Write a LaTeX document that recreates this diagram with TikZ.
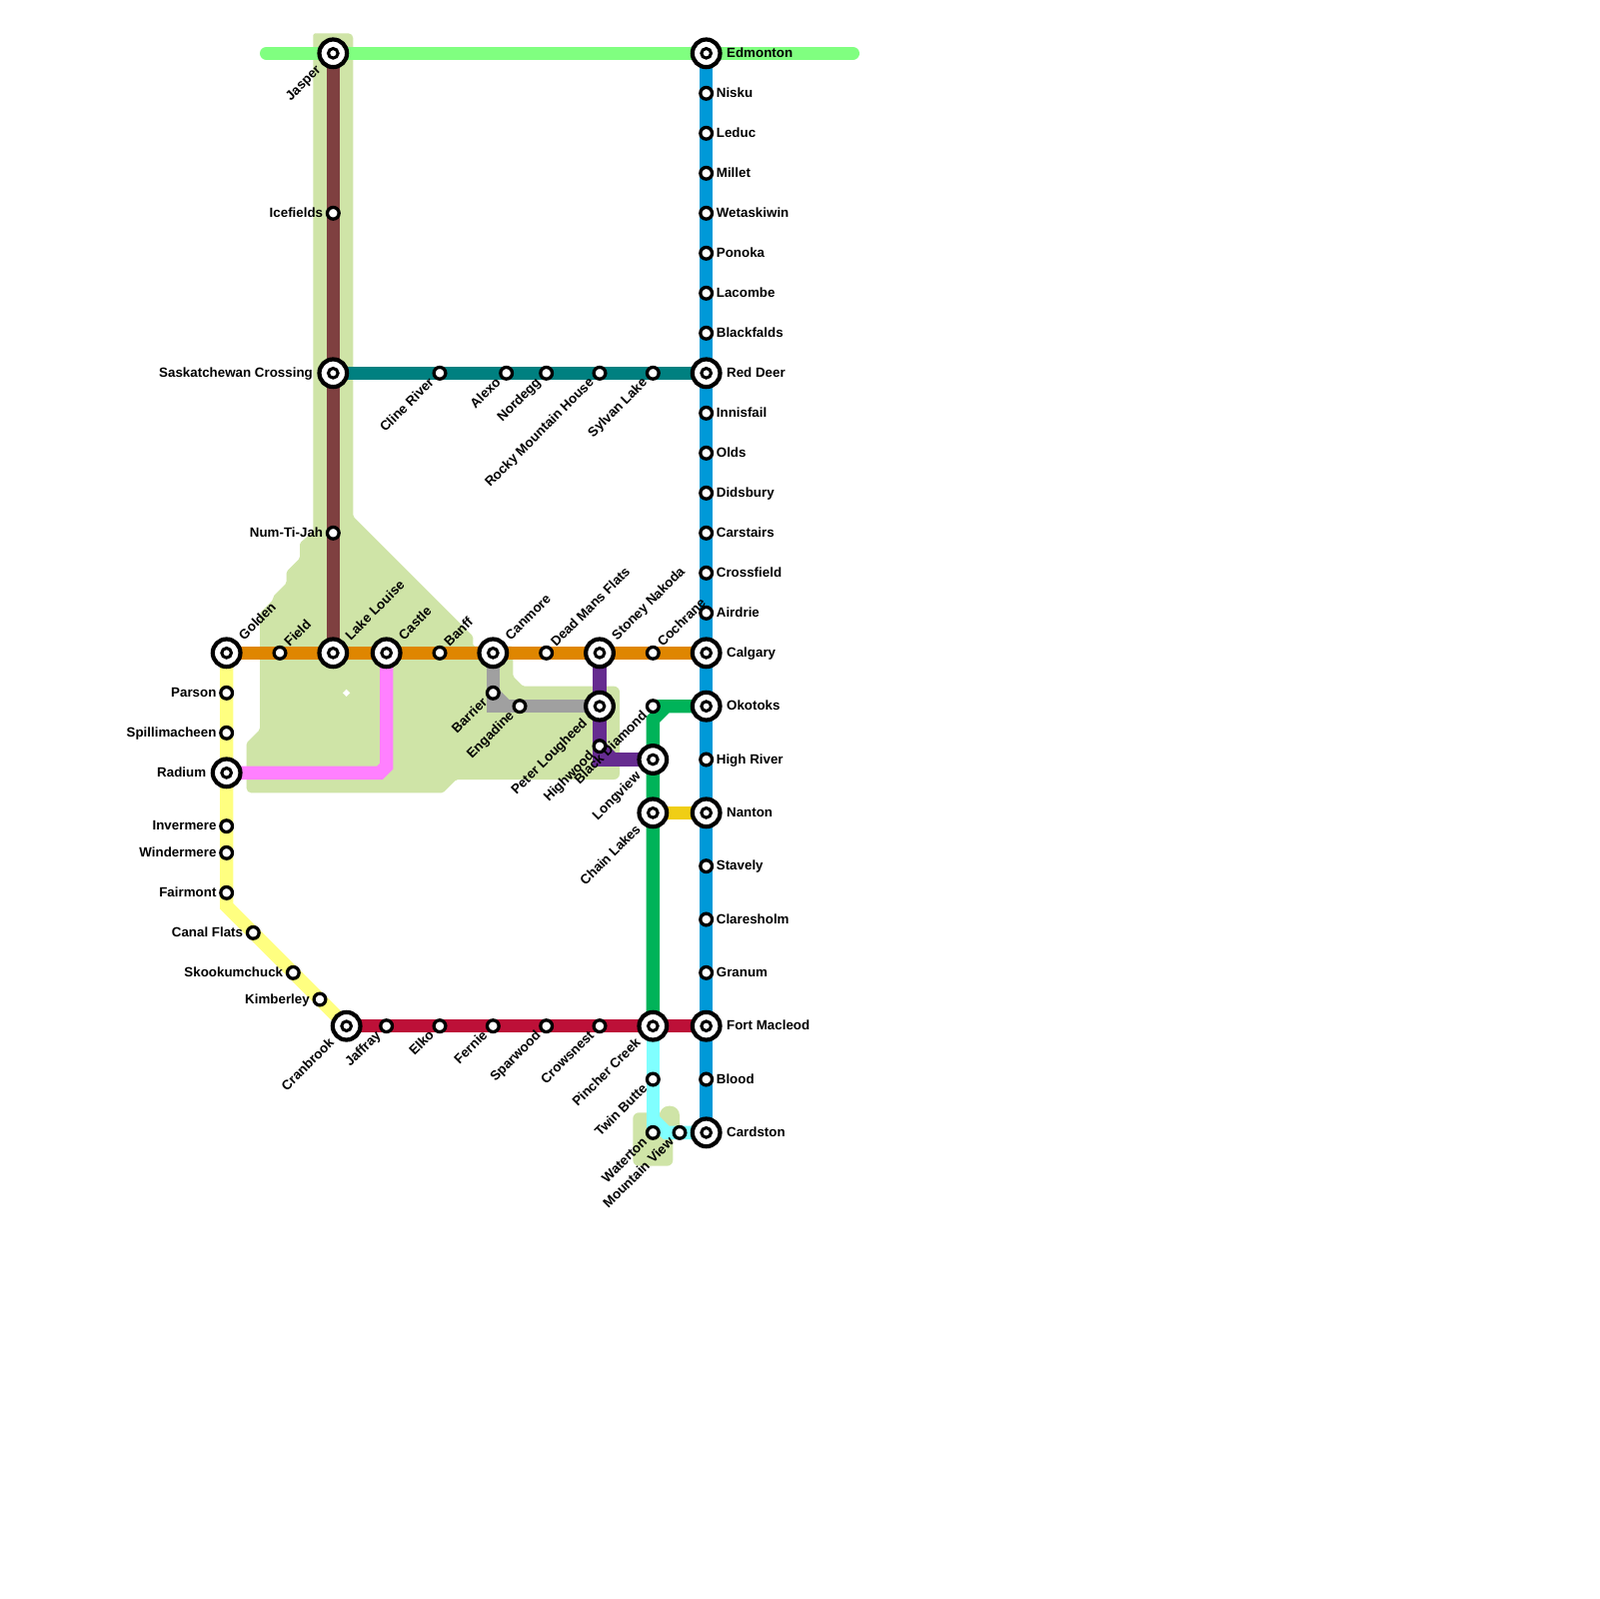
\documentclass[tikz,border=0pt]{standalone}
\usepackage{fontspec}
\setmainfont{Liberation Sans}
\usetikzlibrary{backgrounds}

\definecolor{landc}{HTML}{CFE4A7}
\definecolor{edmc}{HTML}{80FF80}
\definecolor{bluec}{HTML}{0099D8}
\definecolor{brownc}{HTML}{7F4040}
\definecolor{tealc}{HTML}{008080}
\definecolor{orangec}{HTML}{DF8600}
\definecolor{yellowc}{HTML}{FFFF80}
\definecolor{pinkc}{HTML}{FF80FF}
\definecolor{greyc}{HTML}{A0A0A0}
\definecolor{purplec}{HTML}{662C90}
\definecolor{greenc}{HTML}{00B359}
\definecolor{goldc}{HTML}{F0CE15}
\definecolor{redc}{HTML}{BD1038}
\definecolor{cyanc}{HTML}{80FFFF}

\begin{document}
\begin{tikzpicture}[
  x=2mm, y=-2mm,
  land/.style={fill=landc, rounded corners=0.7pt},
  route/.style={line width=2mm},
  stop/.style={circle, draw=black, fill=white, line width=1.4pt, minimum size=5pt, inner sep=0pt},
  hub/.style={circle, draw=black, fill=white, line width=1.8pt, minimum size=11.8pt, inner sep=0pt},
  hubdot/.style={circle, draw=black, fill=white, line width=1.3pt, minimum size=4.1pt, inner sep=0pt},
  lab/.style={font=\bfseries\fontsize{5.7pt}{6pt}\selectfont, inner sep=0pt, text height=4.4pt, text depth=0.8pt},
  stopE/.style={lab, anchor=west, shift={(0.73,0)}},
  stopW/.style={lab, anchor=east, shift={(-0.73,0)}},
  stopN/.style={lab, anchor=west, shift={(0.5,-0.62)}, rotate=45},
  stopS/.style={lab, anchor=east, shift={(-0.58,0.52)}, rotate=45},
  hubE/.style={lab, anchor=west, shift={(1.5,0)}},
  hubW/.style={lab, anchor=east, shift={(-1.5,0)}},
  hubN/.style={lab, anchor=west, shift={(1.08,-1.12)}, rotate=45},
  hubS/.style={lab, anchor=east, shift={(-1.08,1.07)}, rotate=45},
]
\useasboundingbox (0,0) rectangle (120,120);

% Stations
\foreach \id/\x/\y/\kind/\side/\txt in {
  jasper/25/4/hub/S/Jasper, icefields/25/16/stop/W/Icefields,
  saskcrossing/25/28/hub/W/Saskatchewan Crossing, numtijah/25/40/stop/W/Num-Ti-Jah,
  golden/17/49/hub/N/Golden, field/21/49/stop/N/Field,
  lakelouise/25/49/hub/N/Lake Louise, castle/29/49/hub/N/Castle,
  banff/33/49/stop/N/Banff, canmore/37/49/hub/N/Canmore,
  deadmans/41/49/stop/N/Dead Mans Flats, stoney/45/49/hub/N/Stoney Nakoda,
  cochrane/49/49/stop/N/Cochrane,
  parson/17/52/stop/W/Parson, spillimacheen/17/55/stop/W/Spillimacheen,
  radium/17/58/hub/W/Radium, invermere/17/62/stop/W/Invermere,
  windermere/17/64/stop/W/Windermere, fairmont/17/67/stop/W/Fairmont,
  canalflats/19/70/stop/W/Canal Flats, skookumchuck/22/73/stop/W/Skookumchuck,
  kimberley/24/75/stop/W/Kimberley, cranbrook/26/77/hub/S/Cranbrook,
  jaffray/29/77/stop/S/Jaffray, elko/33/77/stop/S/Elko,
  fernie/37/77/stop/S/Fernie, sparwood/41/77/stop/S/Sparwood,
  crowsnest/45/77/stop/S/Crowsnest, pincher/49/77/hub/S/Pincher Creek,
  clineriver/33/28/stop/S/Cline River, alexo/38/28/stop/S/Alexo,
  nordegg/41/28/stop/S/Nordegg, rockymtn/45/28/stop/S/Rocky Mountain House,
  sylvan/49/28/stop/S/Sylvan Lake,
  barrier/37/52/stop/S/Barrier, engadine/39/53/stop/S/Engadine,
  lougheed/45/53/hub/S/Peter Lougheed, highwood/45/56/stop/S/Highwood,
  blackdiamond/49/53/stop/S/Black Diamond, longview/49/57/hub/S/Longview,
  chainlakes/49/61/hub/S/Chain Lakes, twinbutte/49/81/stop/S/Twin Butte,
  waterton/49/85/stop/S/Waterton, mountainview/51/85/stop/S/Mountain View,
  edmonton/53/4/hub/E/Edmonton, nisku/53/7/stop/E/Nisku,
  leduc/53/10/stop/E/Leduc, millet/53/13/stop/E/Millet,
  wetaskiwin/53/16/stop/E/Wetaskiwin, ponoka/53/19/stop/E/Ponoka,
  lacombe/53/22/stop/E/Lacombe, blackfalds/53/25/stop/E/Blackfalds,
  reddeer/53/28/hub/E/Red Deer, innisfail/53/31/stop/E/Innisfail,
  olds/53/34/stop/E/Olds, didsbury/53/37/stop/E/Didsbury,
  carstairs/53/40/stop/E/Carstairs, crossfield/53/43/stop/E/Crossfield,
  airdrie/53/46/stop/E/Airdrie, calgary/53/49/hub/E/Calgary,
  okotoks/53/53/hub/E/Okotoks, highriver/53/57/stop/E/High River,
  nanton/53/61/hub/E/Nanton, stavely/53/65/stop/E/Stavely,
  claresholm/53/69/stop/E/Claresholm, granum/53/73/stop/E/Granum,
  fortmacleod/53/77/hub/E/Fort Macleod, blood/53/81/stop/E/Blood,
  cardston/53/85/hub/E/Cardston} {
  \node[\kind] (\id) at (\x,\y) {};
  \node[\kind\side] (\id-lab) at (\x,\y) {\txt};
}
\foreach \id in {jasper,saskcrossing,golden,lakelouise,castle,canmore,stoney,radium,
  cranbrook,pincher,lougheed,longview,chainlakes,edmonton,reddeer,calgary,okotoks,
  nanton,fortmacleod,cardston} {
  \node[hubdot] at (\id) {};
}

\coordinate (edmwest) at (20,4);
\coordinate (edmeast) at (64,4);

\begin{scope}[on background layer]
% Land
\fill[land] (23.5,2.5) [rounded corners=2pt] -- (26.5,2.5) [rounded corners=0.7pt]
  -- (26.5,38.75) -- (35.5,47.75) -- (35.5,48.5)
  -- (38.5,48.5) -- (38.5,50.75) -- (39.25,51.5) [rounded corners=2.5pt] -- (46.5,51.5)
  -- (46.5,58.5) [rounded corners=0.7pt] -- (34.25,58.5) -- (33.25,59.5)
  [rounded corners=2pt] -- (18.5,59.5) [rounded corners=0.7pt] -- (18.5,55.75) -- (19.5,54.75)
  -- (19.5,46) -- (20.5,45) -- (20.5,44.75) -- (21.5,43.75) -- (21.5,42.9)
  -- (22.5,41.9) -- (22.5,40.75) -- (23.5,39.9) -- cycle;
\fill[white] (25.73,52) -- (26,51.73) -- (26.27,52) -- (26,52.27) -- cycle;
\fill[land, rounded corners=2.5pt] (47.5,83.5) rectangle (50.5,87.5);
\fill[land, rounded corners=4pt] (49.5,83) rectangle (51,85.5);

% Routes
\draw[route, edmc, line cap=round] (edmwest) -- (edmeast);
\draw[route, bluec] (edmonton.center) -- (cardston.center);
\draw[route, brownc] (jasper.center) -- (lakelouise.center);
\draw[route, tealc] (saskcrossing.center) -- (reddeer.center);
\draw[route, orangec] (golden.center) -- (calgary.center);
\draw[route, yellowc] (golden.center) -- (17,68) -- (cranbrook.center);
\draw[route, pinkc] (castle.center) -- (29,57.5) -- (28.5,58) -- (radium.center);
\draw[route, greyc] (canmore.center) -- (37,53) -- (lougheed.center);
\draw[route, greyc] (37,52) -- (38,53);
\draw[route, purplec] (stoney.center) -- (45,57) -- (longview.center);
\draw[route, purplec] (45,56) -- (46,57);
\draw[route, greenc] (okotoks.center) -- (50,53) -- (49,54) -- (pincher.center);
\draw[route, greenc] (blackdiamond.center) -- (okotoks.center);
\draw[route, goldc] (chainlakes.center) -- (nanton.center);
\draw[route, cyanc] (pincher.center) -- (waterton.center);
\draw[route, cyanc] (49,84) -- (50,85) -- (cardston.center);
\draw[route, redc] (cranbrook.center) -- (fortmacleod.center);
\end{scope}

\end{tikzpicture}
\end{document}
